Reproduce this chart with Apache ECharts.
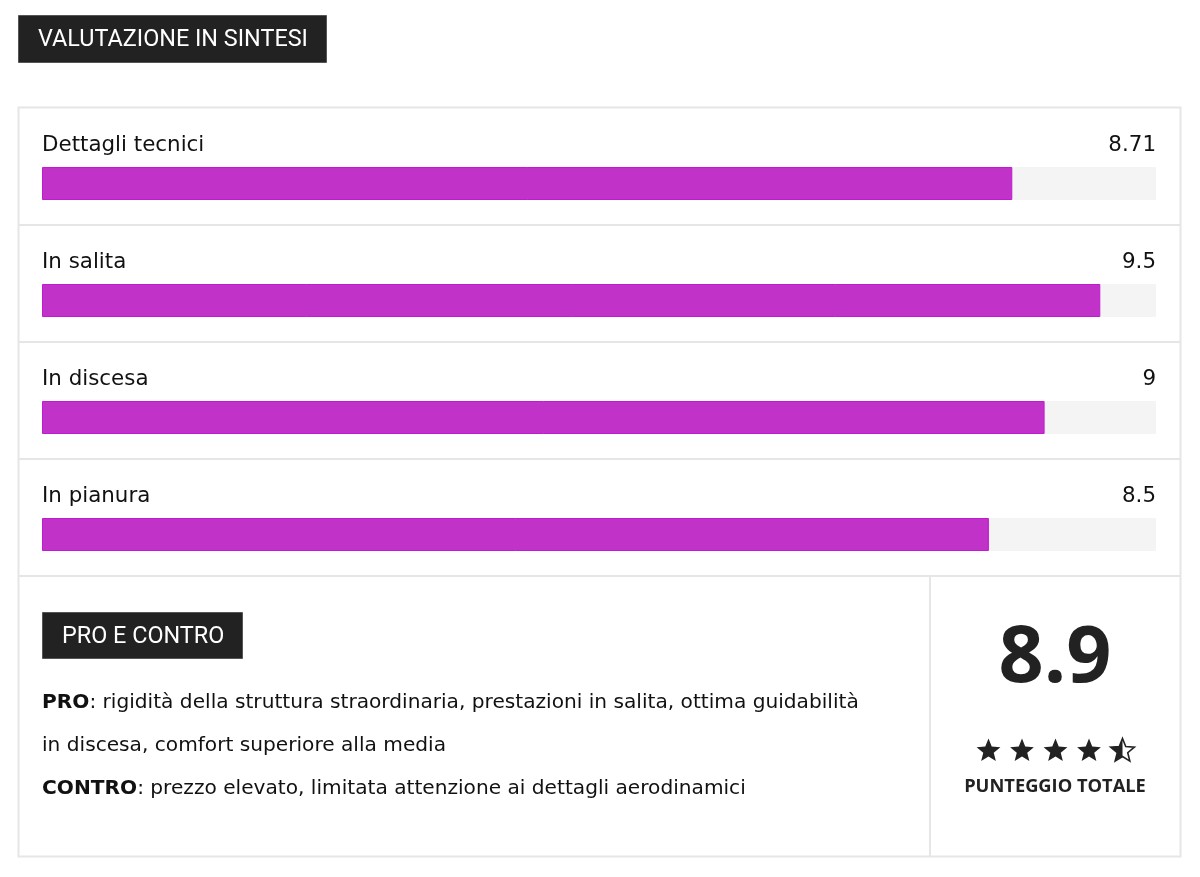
<!DOCTYPE html>
<html><head><meta charset="utf-8">
<script src="https://cdn.jsdelivr.net/npm/echarts@6/dist/echarts.min.js"></script>
<style>html,body{margin:0;padding:0;background:#fff}#c{width:1200px;height:877px}</style>
</head><body><div id="c"></div>
<script>
const categories = ['Dettagli tecnici', 'In salita', 'In discesa', 'In pianura'];
const scores = [8.71, 9.5, 9, 8.5];
const scoreLabels = ['8.71', '9.5', '9', '8.5'];
const maxScore = 10;
const totalScore = '8.9';
const starRating = 4.5;
const titleText = 'VALUTAZIONE IN SINTESI';
const proTitle = 'PRO E CONTRO';
const proLines = [
  {b: 'PRO', t: ': rigidità della struttura straordinaria, prestazioni in salita, ottima guidabilità'},
  {b: '', t: 'in discesa, comfort superiore alla media'},
  {b: 'CONTRO', t: ': prezzo elevato, limitata attenzione ai dettagli aerodinamici'}
];
const totalLabel = 'PUNTEGGIO TOTALE';

const chart = echarts.init(document.getElementById('c'), null, {renderer: 'canvas'});
const labelFont = '"DejaVu Sans", Verdana, sans-serif';

function starPoints(cx, cy, R, r) {
  const pts = [];
  for (let i = 0; i < 10; i++) {
    const a = -Math.PI / 2 + i * Math.PI / 5;
    const rad = i % 2 === 0 ? R : r;
    pts.push([cx + rad * Math.cos(a), cy + rad * Math.sin(a)]);
  }
  return pts;
}

const graphics = [];
// title box
graphics.push({type: 'rect', shape: {x: 18.5, y: 15.5, width: 308, height: 47}, style: {fill: '#222', stroke: '#555', lineWidth: 1}, z: 10});
graphics.push({type: 'text', x: 38, y: 40, style: {text: titleText, fill: '#fff', font: '23.4px Roboto', verticalAlign: 'middle'}, z: 11});
// outer box
graphics.push({type: 'rect', shape: {x: 18.5, y: 107.5, width: 1162, height: 749}, style: {fill: 'none', stroke: '#e6e6e6', lineWidth: 2}, z: 1});
[225, 342, 459, 576].forEach(y => {
  graphics.push({type: 'line', shape: {x1: 19, y1: y, x2: 1180, y2: y}, style: {stroke: '#e6e6e6', lineWidth: 2}, z: 1});
});
graphics.push({type: 'line', shape: {x1: 930, y1: 576, x2: 930, y2: 856}, style: {stroke: '#e6e6e6', lineWidth: 2}, z: 1});
// pro e contro box
graphics.push({type: 'rect', shape: {x: 42.5, y: 612.5, width: 200, height: 46}, style: {fill: '#222', stroke: '#555', lineWidth: 1}, z: 10});
graphics.push({type: 'text', x: 62, y: 637, style: {text: proTitle, fill: '#fff', font: '23.4px Roboto', verticalAlign: 'middle'}, z: 11});
// pro lines
const lineYs = [703, 746, 789];
proLines.forEach((l, i) => {
  graphics.push({type: 'text', x: 42, y: lineYs[i], style: {
    text: (l.b ? '{b|' + l.b + '}' : '') + '{n|' + l.t + '}',
    verticalAlign: 'middle',
    rich: {
      b: {font: 'bold 20.15px ' + labelFont, fill: '#111'},
      n: {font: '20.15px ' + labelFont, fill: '#111'}
    }
  }, z: 11});
});
// total score
graphics.push({type: 'text', x: 1055, y: 659, style: {text: totalScore, fill: '#222', font: 'bold 79px "Open Sans"', align: 'center', verticalAlign: 'middle'}, z: 11});
graphics.push({type: 'text', x: 1055, y: 787, style: {text: totalLabel, fill: '#222', font: 'bold 18.3px "Open Sans"', align: 'center', verticalAlign: 'middle'}, z: 11});
// stars
const starXs = [988.5, 1022, 1055.5, 1089, 1122.5];
starXs.forEach((cx, i) => {
  const cy = 751;
  const R = 12.5, r = 5.5;
  const pts = starPoints(cx, cy, R, r);
  if (i + 1 <= starRating) {
    graphics.push({type: 'polygon', shape: {points: pts}, style: {fill: '#222'}, z: 11});
  } else if (i < starRating) {
    graphics.push({type: 'polygon', shape: {points: pts}, style: {fill: 'none', stroke: '#222', lineWidth: 1.6}, z: 11});
    const lh = [pts[0], pts[9], pts[8], pts[7], pts[6], pts[5]];
    graphics.push({type: 'polygon', shape: {points: lh}, style: {fill: '#222'}, z: 12});
  }
});

chart.setOption({
  animation: false,
  grid: {left: 42, right: 44, top: 125, height: 468, containLabel: false},
  xAxis: {type: 'value', min: 0, max: maxScore, show: false},
  yAxis: {type: 'category', data: categories, inverse: true, show: false},
  series: [
    {
      type: 'bar', name: 'track', barWidth: 33, barGap: '-100%',
      data: categories.map(() => maxScore),
      itemStyle: {color: '#f4f4f4'},
      silent: true, z: 2,
      label: {
        show: true, position: ['100%', -22], align: 'right', verticalAlign: 'middle',
        formatter: p => scoreLabels[p.dataIndex],
        fontFamily: labelFont, fontSize: 21.4, color: '#111'
      }
    },
    {
      type: 'bar', name: 'score', barWidth: 33, barGap: '-100%',
      data: scores,
      itemStyle: {color: '#c032c8', borderColor: '#c21ad2', borderWidth: 1},
      z: 3,
      label: {
        show: true, position: [0, -22], align: 'left', verticalAlign: 'middle',
        formatter: p => categories[p.dataIndex],
        fontFamily: labelFont, fontSize: 21.4, color: '#111'
      }
    }
  ],
  graphic: graphics
});
</script>
</body></html>
